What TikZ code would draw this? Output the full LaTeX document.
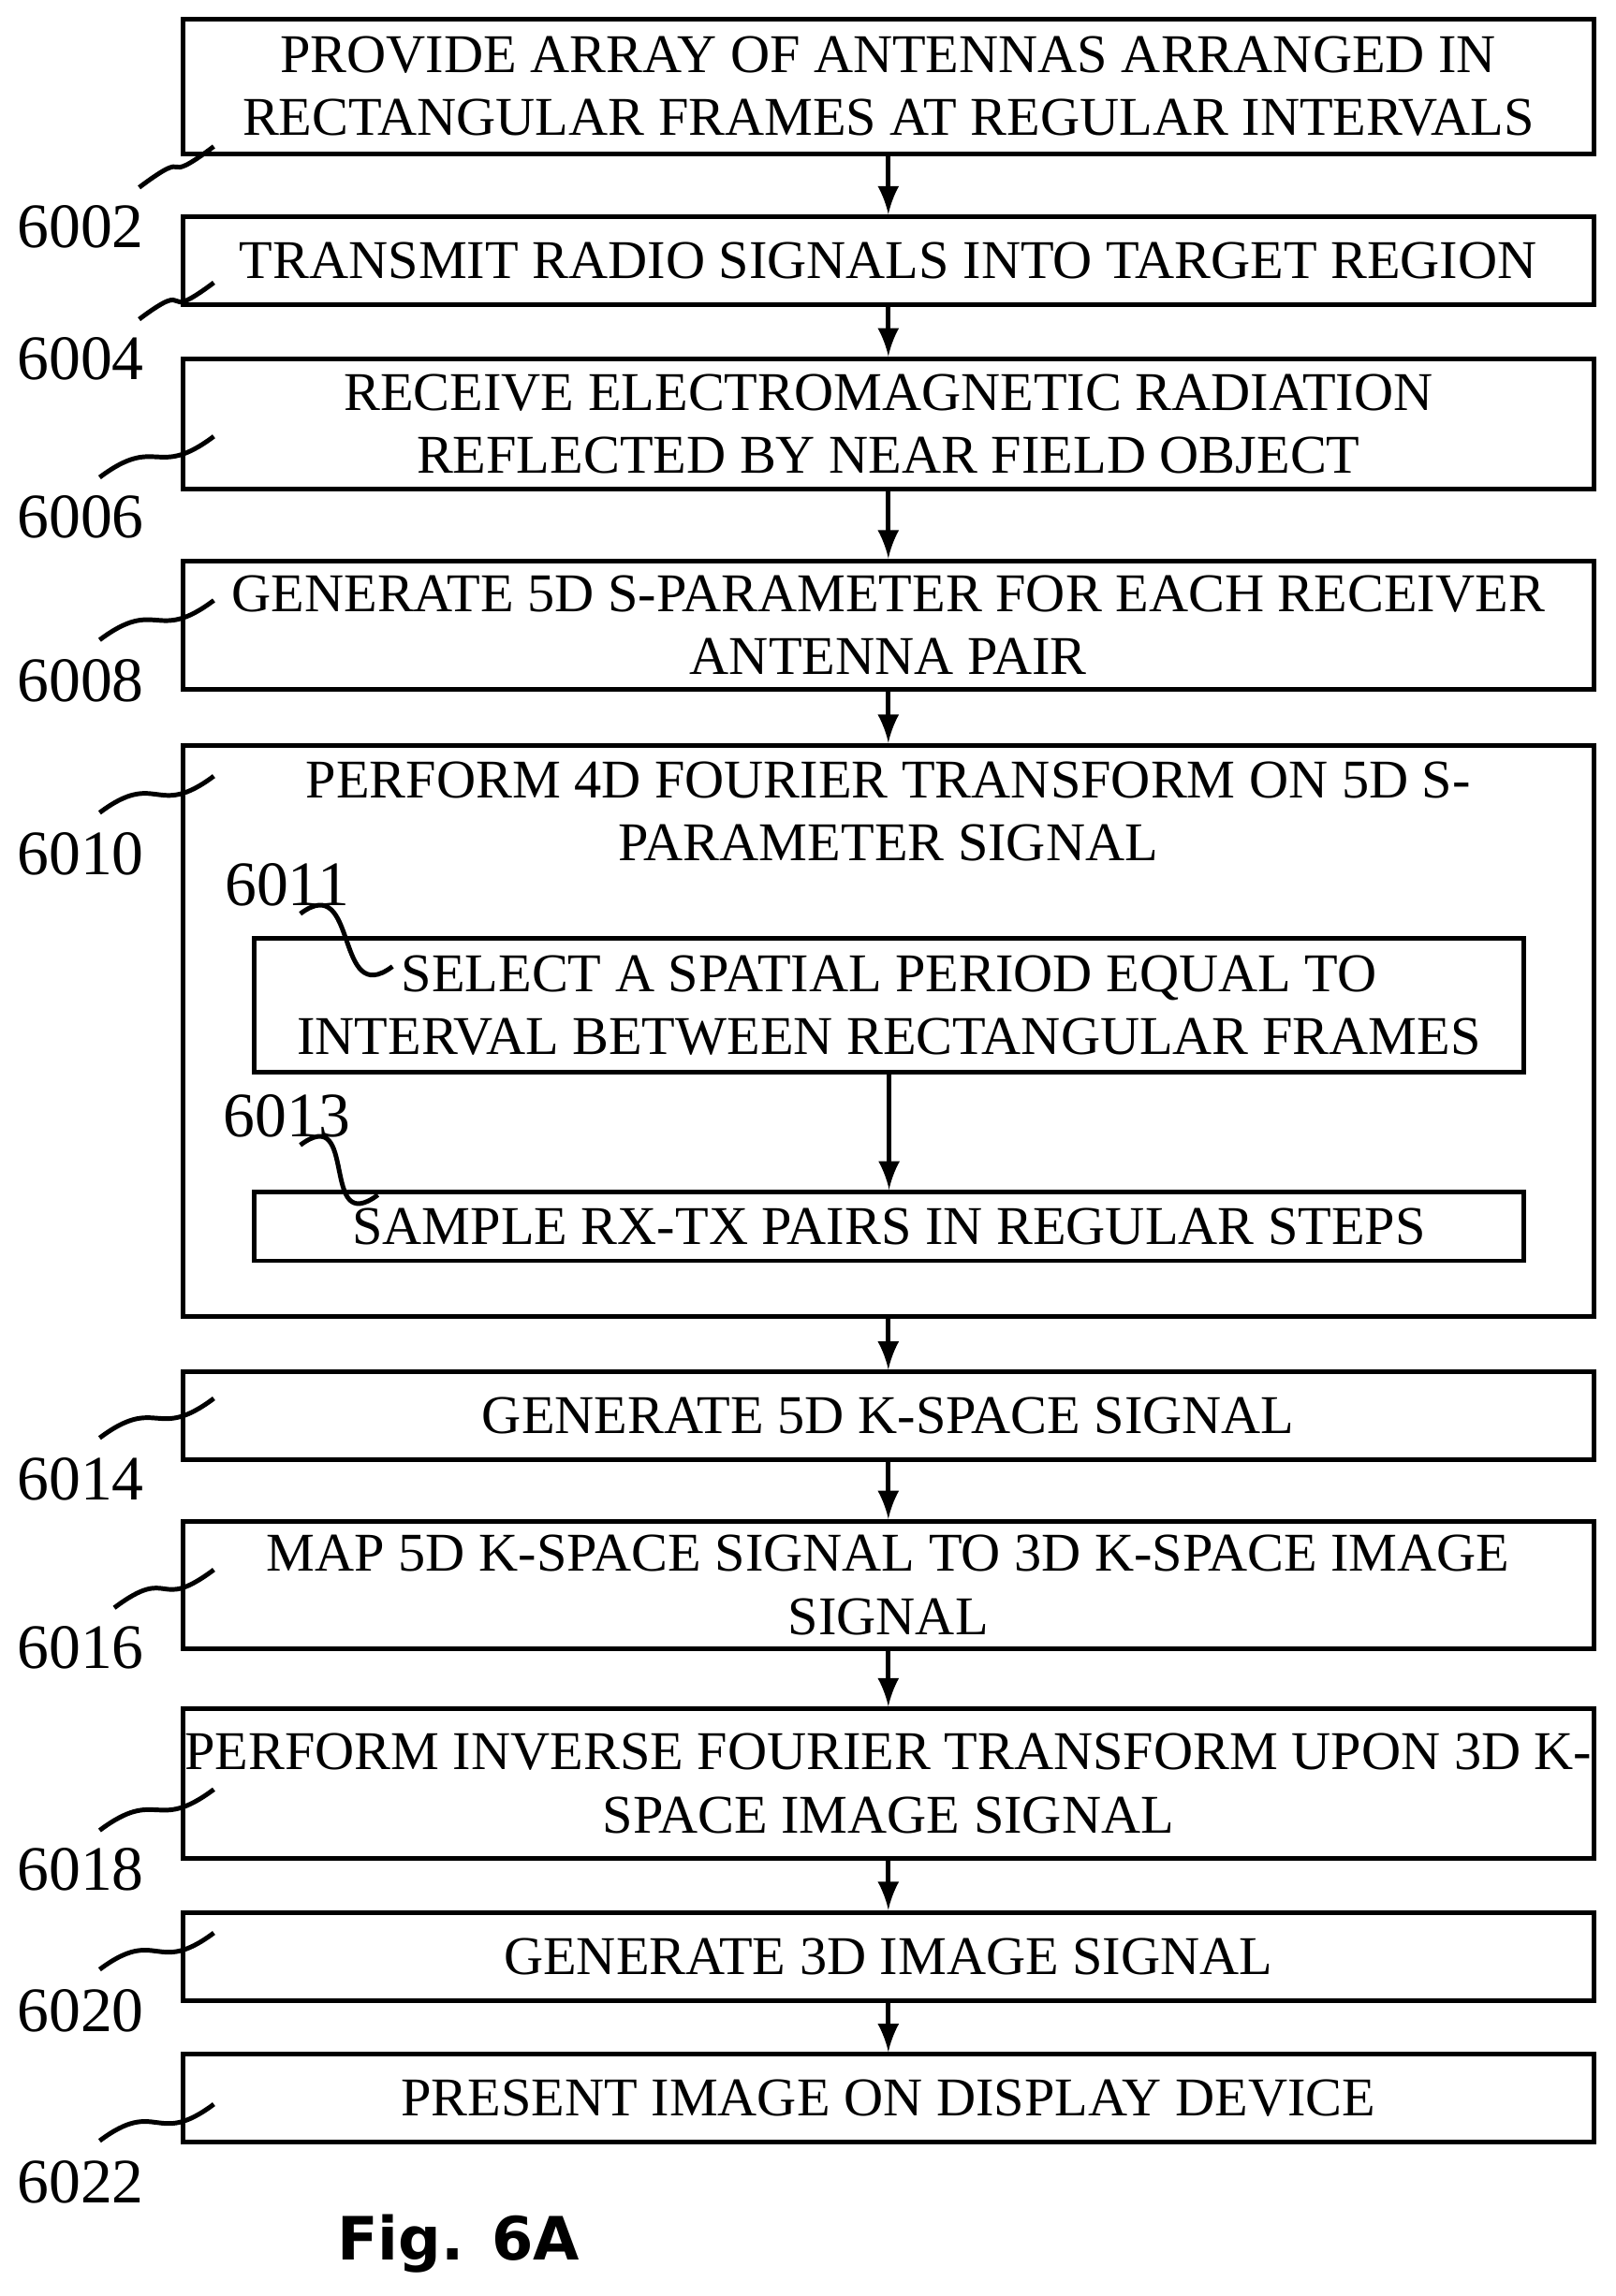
\documentclass[tikz,border=0pt]{standalone}
\usepackage{fontspec}
\setmainfont{Liberation Serif}
\newfontfamily\figfont{DejaVu Sans}
\usetikzlibrary{arrows}

\tikzset{
  stepbox/.style={draw, line width=0.9pt, rectangle, align=center, inner sep=0pt,
    font=\fontsize{10.6}{12.2}\selectfont},
  numlabel/.style={font=\fontsize{12.3}{14}\selectfont, inner sep=0pt},
  flow/.style={-latex, line width=0.9pt},
  leader/.style={line width=0.9pt}
}
\newcommand{\squig}[2]{\draw[leader] #1 .. controls +(40,-30) and +(-40,30) .. #2;}

\begin{document}
\begin{tikzpicture}[x=0.01cm, y=-0.01cm]
        \useasboundingbox (0,0) rectangle (1103,1568);

        \node[stepbox, minimum width=9.63cm, minimum height=0.92cm] (s6002) at (606.5,59)
            {PROVIDE ARRAY OF ANTENNAS ARRANGED IN\\RECTANGULAR FRAMES AT REGULAR INTERVALS};
        \node[stepbox, minimum width=9.63cm, minimum height=0.60cm] (s6004) at (606.5,178)
            {TRANSMIT RADIO SIGNALS INTO TARGET REGION};
        \node[stepbox, minimum width=9.63cm, minimum height=0.89cm] (s6006) at (606.5,289.5)
            {RECEIVE ELECTROMAGNETIC RADIATION\\REFLECTED BY NEAR FIELD OBJECT};
        \node[stepbox, minimum width=9.63cm, minimum height=0.88cm] (s6008) at (606.5,427)
            {GENERATE 5D S-PARAMETER FOR EACH RECEIVER\\ANTENNA PAIR};
        \node[stepbox, minimum width=9.63cm, minimum height=3.90cm] (s6010) at (606.5,704) {};
        \node[stepbox, draw=none] (t6010) at (606.5,554)
            {PERFORM 4D FOURIER TRANSFORM ON 5D S-\\PARAMETER SIGNAL};
        \node[stepbox, minimum width=8.66cm, minimum height=0.91cm] (s6011) at (607,686.5)
            {SELECT A SPATIAL PERIOD EQUAL TO\\INTERVAL BETWEEN RECTANGULAR FRAMES};
        \node[stepbox, minimum width=8.66cm, minimum height=0.47cm] (s6013) at (607,837.5)
            {SAMPLE RX-TX PAIRS IN REGULAR STEPS};
        \node[stepbox, minimum width=9.63cm, minimum height=0.60cm] (s6014) at (606.5,967)
            {GENERATE 5D K-SPACE SIGNAL};
        \node[stepbox, minimum width=9.63cm, minimum height=0.87cm] (s6016) at (606.5,1082.5)
            {MAP 5D K-SPACE SIGNAL TO 3D K-SPACE IMAGE\\SIGNAL};
        \node[stepbox, minimum width=9.63cm, minimum height=1.02cm] (s6018) at (606.5,1218)
            {PERFORM INVERSE FOURIER TRANSFORM UPON 3D K-\\SPACE IMAGE SIGNAL};
        \node[stepbox, minimum width=9.63cm, minimum height=0.60cm] (s6020) at (606.5,1336)
            {GENERATE 3D IMAGE SIGNAL};
        \node[stepbox, minimum width=9.63cm, minimum height=0.60cm] (s6022) at (606.5,1433)
            {PRESENT IMAGE ON DISPLAY DEVICE};

        % flow arrows
        \draw[flow] (s6002) -- (s6004);
        \draw[flow] (s6004) -- (s6006);
        \draw[flow] (s6006) -- (s6008);
        \draw[flow] (s6008) -- (s6010);
        \draw[flow] (s6011) -- (s6013);
        \draw[flow] (s6010) -- (s6014);
        \draw[flow] (s6014) -- (s6016);
        \draw[flow] (s6016) -- (s6018);
        \draw[flow] (s6018) -- (s6020);
        \draw[flow] (s6020) -- (s6022);

        % reference numbers
        \node[numlabel] (n6002) at (55,155) {6002};
        \node[numlabel] (n6004) at (55,245) {6004};
        \node[numlabel] (n6006) at (55,353) {6006};
        \node[numlabel] (n6008) at (55,465) {6008};
        \node[numlabel] (n6010) at (55,583) {6010};
        \node[numlabel] (n6011) at (196,604) {6011};
        \node[numlabel] (n6013) at (196,762) {6013};
        \node[numlabel] (n6014) at (55,1010) {6014};
        \node[numlabel] (n6016) at (55,1125) {6016};
        \node[numlabel] (n6018) at (55,1277) {6018};
        \node[numlabel] (n6020) at (55,1373) {6020};
        \node[numlabel] (n6022) at (55,1490) {6022};

        % leaders
        \squig{(95,128)}{(146,100)}
        \squig{(95,218)}{(146,193)}
        \squig{(68,326)}{(146,298)}
        \squig{(68,437)}{(146,410)}
        \squig{(68,555)}{(146,530)}
        \squig{(205,624)}{(268,660)}
        \squig{(205,782)}{(258,816)}
        \squig{(68,982)}{(146,955)}
        \squig{(78,1098)}{(146,1072)}
        \squig{(68,1250)}{(146,1222)}
        \squig{(68,1345)}{(146,1320)}
        \squig{(68,1462)}{(146,1437)}

        \node[font=\figfont\bfseries\fontsize{11.6}{14}\selectfont, inner sep=0pt] (fig) at (313,1532) {Fig. 6A};
\end{tikzpicture}
\end{document}
